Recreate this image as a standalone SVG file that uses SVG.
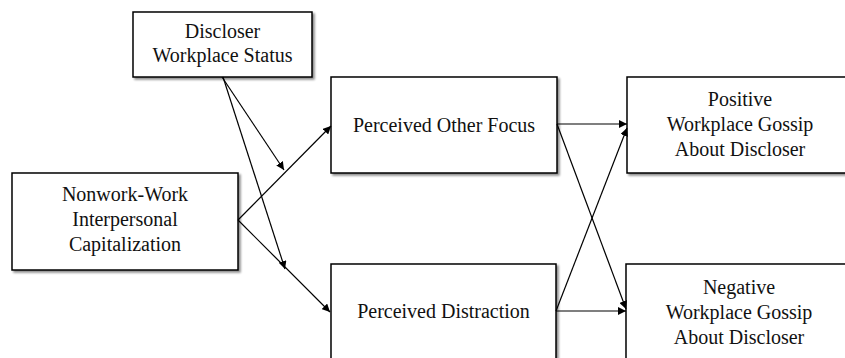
<svg xmlns="http://www.w3.org/2000/svg" width="845" height="358" viewBox="0 0 845 358">
<style>
.box{fill:#fff;stroke:#000;stroke-width:1.5}
.t{font-family:"Liberation Serif","Times New Roman",serif;font-size:20px;fill:#111;text-anchor:middle}
.c{stroke:#000;stroke-width:1.2;fill:none;marker-end:url(#ah)}
</style>
<defs>
<filter id="sh" x="-10%" y="-10%" width="130%" height="130%">
<feGaussianBlur in="SourceAlpha" stdDeviation="1.2"/>
<feOffset dx="2" dy="2" result="o"/>
<feComponentTransfer><feFuncA type="linear" slope="0.45"/></feComponentTransfer>
<feMerge><feMergeNode/><feMergeNode in="SourceGraphic"/></feMerge>
</filter>
<marker id="ah" viewBox="0 0 10 10" refX="10" refY="5" markerWidth="8" markerHeight="8" markerUnits="userSpaceOnUse" orient="auto">
<path d="M0,0 L10,5 L0,10 z" fill="#000"/>
</marker>
</defs>
<rect width="845" height="358" fill="#fff"/>
<g id="discloser">
<rect class="box" x="133" y="12" width="179" height="65" filter="url(#sh)"/>
<text class="t" x="222.5" y="38">Discloser</text>
<text class="t" x="222.5" y="62">Workplace Status</text>
</g>
<g id="nonwork">
<rect class="box" x="12" y="173" width="226" height="97" filter="url(#sh)"/>
<text class="t" x="125" y="201">Nonwork-Work</text>
<text class="t" x="125" y="226">Interpersonal</text>
<text class="t" x="125" y="251">Capitalization</text>
</g>
<g id="otherfocus">
<rect class="box" x="331" y="77" width="226" height="96" filter="url(#sh)"/>
<text class="t" x="444" y="132">Perceived Other Focus</text>
</g>
<g id="distraction">
<rect class="box" x="331" y="264" width="225" height="110" filter="url(#sh)"/>
<text class="t" x="443.5" y="318">Perceived Distraction</text>
</g>
<g id="positive">
<rect class="box" x="627" y="77" width="226" height="96" filter="url(#sh)"/>
<text class="t" x="740" y="106">Positive</text>
<text class="t" x="740" y="131">Workplace Gossip</text>
<text class="t" x="740" y="156">About Discloser</text>
</g>
<g id="negative">
<rect class="box" x="626" y="264" width="226" height="110" filter="url(#sh)"/>
<text class="t" x="739" y="294">Negative</text>
<text class="t" x="739" y="319">Workplace Gossip</text>
<text class="t" x="739" y="344">About Discloser</text>
</g>
<g id="connectors">
<line class="c" x1="222" y1="77" x2="284" y2="170"/>
<line class="c" x1="223" y1="77" x2="285" y2="269"/>
<line class="c" x1="238" y1="220" x2="331" y2="126"/>
<line class="c" x1="238" y1="220" x2="330" y2="312"/>
<line class="c" x1="557" y1="124" x2="627" y2="124"/>
<line class="c" x1="557" y1="124" x2="626" y2="309"/>
<line class="c" x1="556" y1="311" x2="626" y2="311"/>
<line class="c" x1="556" y1="311" x2="627" y2="128"/>
</g>
</svg>
